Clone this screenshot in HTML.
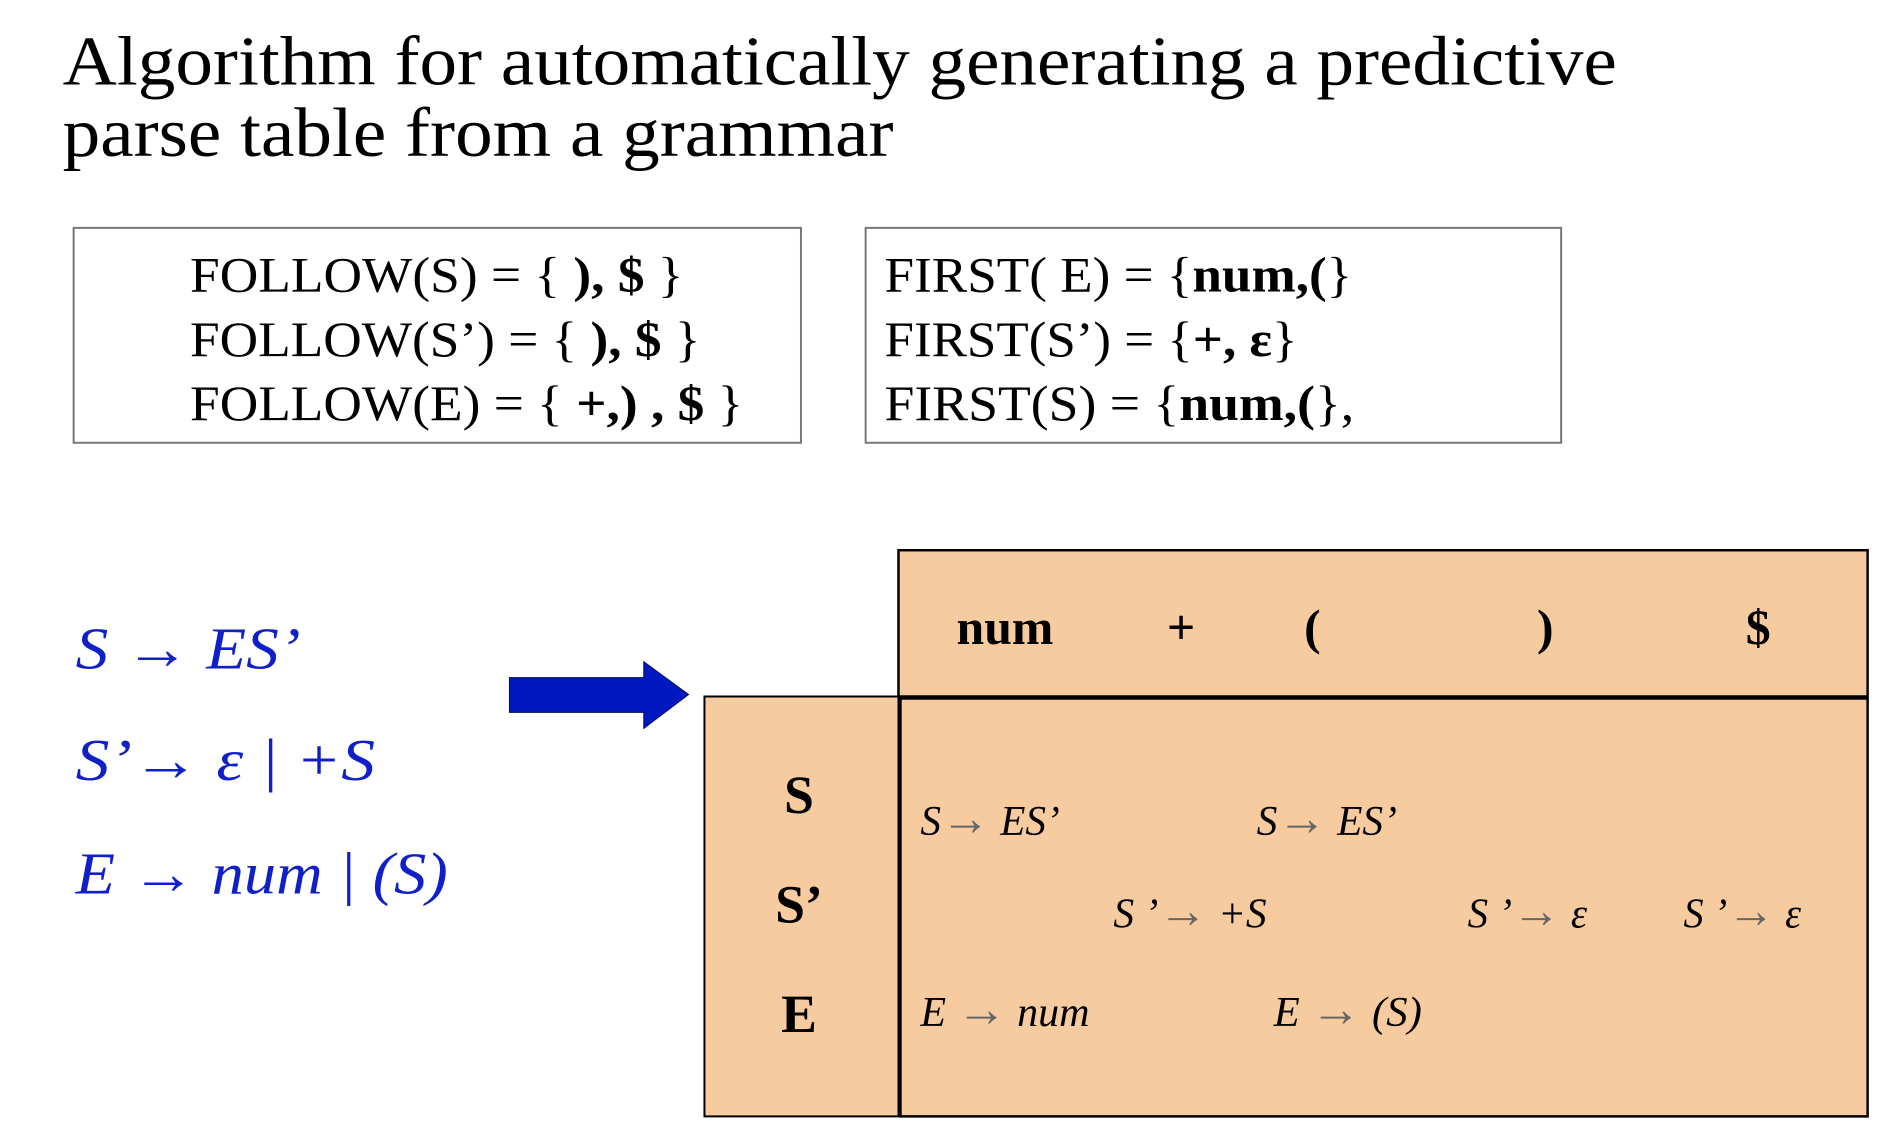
<!DOCTYPE html>
<html><head><meta charset="utf-8"><style>
html,body{margin:0;padding:0;background:#fff;}
svg{display:block;font-family:"Liberation Serif",serif;}
</style></head><body>
<svg width="1888" height="1132" viewBox="0 0 1888 1132" xmlns="http://www.w3.org/2000/svg">
<g transform="scale(0.995)">
<g font-size="70" fill="#000">
<text x="63" y="85" textLength="1562" lengthAdjust="spacingAndGlyphs">Algorithm for automatically generating a predictive</text>
<text x="63" y="157" textLength="835" lengthAdjust="spacingAndGlyphs">parse table from a grammar</text>
</g>
<g>
<rect x="74" y="229" width="731" height="216" fill="#fff" stroke="#777" stroke-width="2"/>
<g font-size="50">
<text x="191" y="293" textLength="496" lengthAdjust="spacingAndGlyphs">FOLLOW(S) = { <tspan font-weight="bold">), $</tspan> }</text>
<text x="191" y="358" textLength="513" lengthAdjust="spacingAndGlyphs">FOLLOW(S’) = { <tspan font-weight="bold">), $</tspan> }</text>
<text x="191" y="422" textLength="556" lengthAdjust="spacingAndGlyphs">FOLLOW(E) = { <tspan font-weight="bold">+,) , $</tspan> }</text>
</g></g>
<g>
<rect x="870" y="229" width="699" height="216" fill="#fff" stroke="#777" stroke-width="2"/>
<g font-size="50">
<text x="889" y="293" textLength="470" lengthAdjust="spacingAndGlyphs">FIRST( E) = {<tspan font-weight="bold">num,(</tspan>}</text>
<text x="889" y="358" textLength="415" lengthAdjust="spacingAndGlyphs">FIRST(S’) = {<tspan font-weight="bold">+, ε</tspan>}</text>
<text x="889" y="422" textLength="472" lengthAdjust="spacingAndGlyphs">FIRST(S) = {<tspan font-weight="bold">num,(</tspan>},</text>
</g></g>
<g font-size="60" font-style="italic" fill="#1020c8">
<text x="76" y="672" textLength="226" lengthAdjust="spacingAndGlyphs">S → ES’</text>
<text x="76" y="784" textLength="301" lengthAdjust="spacingAndGlyphs">S’→ ε | +S</text>
<text x="76" y="898" textLength="374" lengthAdjust="spacingAndGlyphs">E → num | (S)</text>
</g>
<polygon points="512,681 647,681 647,665 692,698 647,732 647,716 512,716" fill="#0018c0" stroke="#000a60" stroke-width="1"/>
<g>
<rect x="903" y="553" width="974" height="147" fill="#f7cba0" stroke="#000" stroke-width="2.5"/>
<rect x="708" y="700" width="195" height="422" fill="#f7cba0" stroke="#000" stroke-width="2"/>
<rect x="905" y="702" width="972" height="420" fill="#f7cba0" stroke="#000" stroke-width="2.5"/>
<g font-size="50" font-weight="bold" text-anchor="middle">
<text x="1010" y="647">num</text>
<text x="1187" y="647">+</text>
<text x="1319" y="647">(</text>
<text x="1553" y="647">)</text>
<text x="1767" y="647">$</text>
</g>
<g font-size="54" font-weight="bold" text-anchor="middle">
<text x="803" y="817">S</text>
<text x="803" y="927">S’</text>
<text x="803" y="1037">E</text>
</g>
<g font-size="42" font-style="italic">
<text x="925" y="839" textLength="140" lengthAdjust="spacingAndGlyphs">S<tspan fill="#666" font-size="50">→</tspan> ES’</text>
<text x="1263" y="839" textLength="141" lengthAdjust="spacingAndGlyphs">S<tspan fill="#666" font-size="50">→</tspan> ES’</text>
<text x="1119" y="932" textLength="154" lengthAdjust="spacingAndGlyphs">S ’<tspan fill="#666" font-size="50">→</tspan> +S</text>
<text x="1475" y="932" textLength="120" lengthAdjust="spacingAndGlyphs">S ’<tspan fill="#666" font-size="50">→</tspan> ε</text>
<text x="1692" y="932" textLength="118" lengthAdjust="spacingAndGlyphs">S ’<tspan fill="#666" font-size="50">→</tspan> ε</text>
<text x="925" y="1031" textLength="170" lengthAdjust="spacingAndGlyphs">E <tspan fill="#666" font-size="50">→</tspan> num</text>
<text x="1280" y="1031" textLength="149" lengthAdjust="spacingAndGlyphs">E <tspan fill="#666" font-size="50">→</tspan> (S)</text>
</g>
</g>
</g>
</svg>
</body></html>
